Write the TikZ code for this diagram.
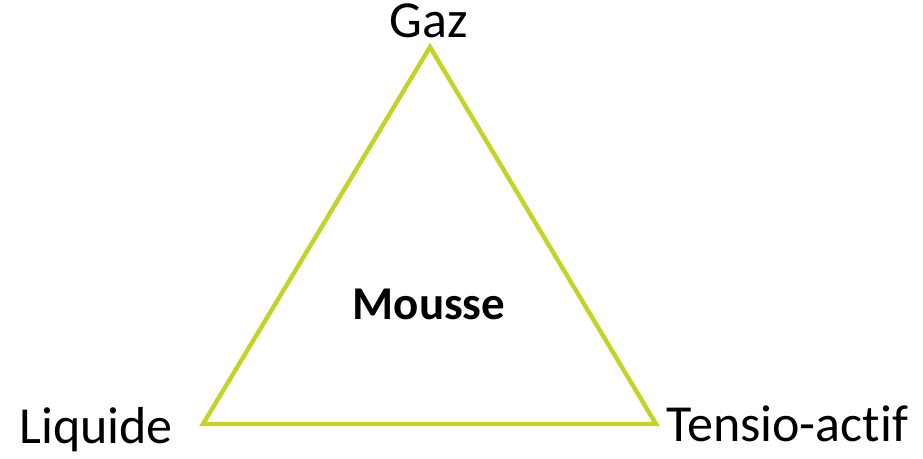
\documentclass[tikz,border=0pt]{standalone}
\usepackage{fontspec}
\setmainfont{Carlito}[Ligatures=NoCommon]
\usepackage{tikz}
\usetikzlibrary{positioning}
\definecolor{trigreen}{HTML}{C3D32A}
\tikzset{corner/.style={font=\fontsize{26}{30}\selectfont,anchor=base,inner sep=0pt}}

\begin{document}
\begin{tikzpicture}[x=0.5pt,y=-0.5pt]
\useasboundingbox (0,0) rectangle (923,459);
\coordinate (top) at (430,47); \coordinate (left) at (203,424); \coordinate (right) at (656,424);
\draw[trigreen,line width=2.2pt,line join=miter] (top)--(left)--(right)--cycle;
\node[corner] (gaz) at (429,38) {Gaz};
\node[corner,anchor=base west] (liquide) at (19,444) {Liquide};
\node[corner,anchor=base west] (tensio) at (666,442) {Tensio-actif};
\node[font=\fontsize{23.5}{27}\selectfont\bfseries,anchor=base,inner sep=0pt] (mousse) at (429,320) {Mousse};
\end{tikzpicture}
\end{document}
